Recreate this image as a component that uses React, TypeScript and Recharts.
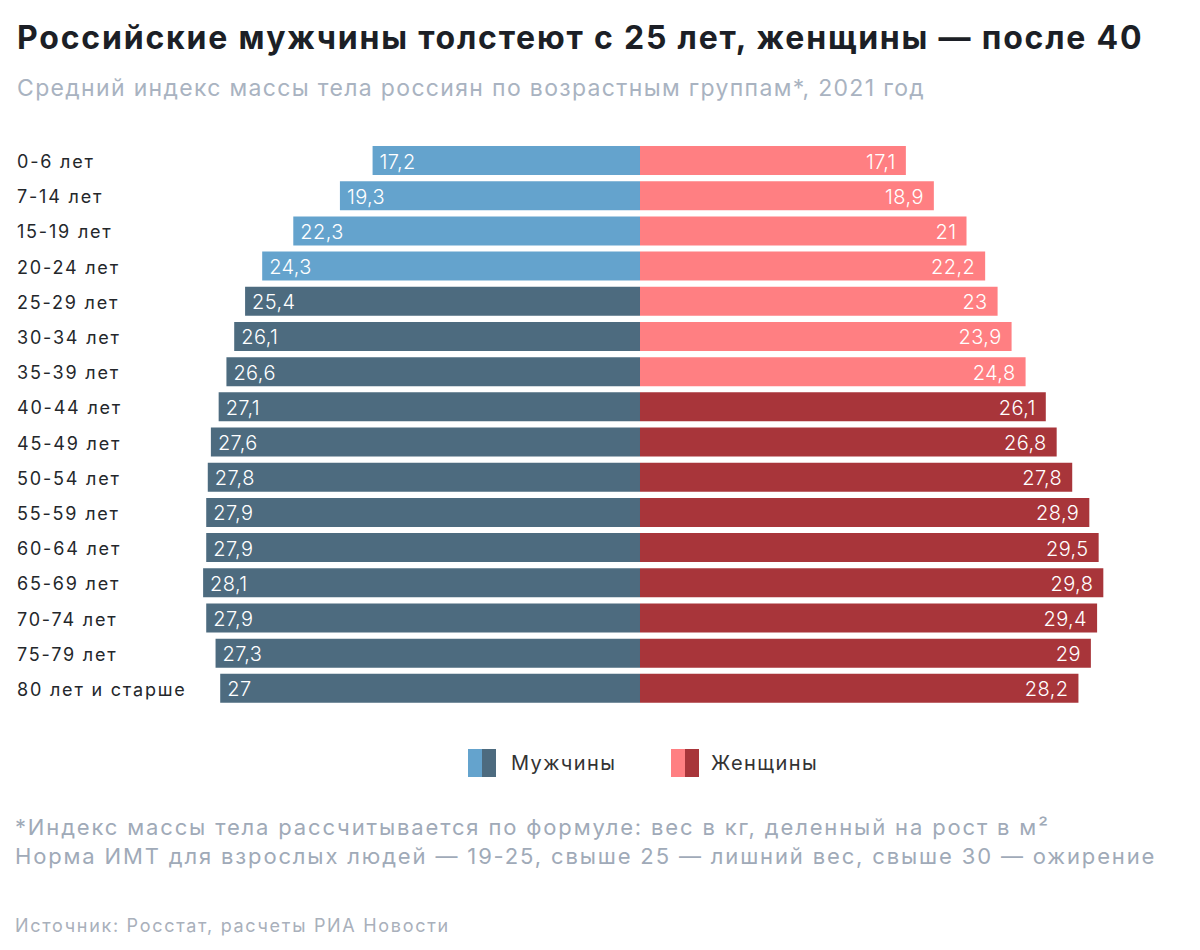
import React from "react"
import { BarChart, Bar, XAxis, YAxis, Cell, LabelList } from "recharts"

const ageGroups = [
  "0-6 лет",
  "7-14 лет",
  "15-19 лет",
  "20-24 лет",
  "25-29 лет",
  "30-34 лет",
  "35-39 лет",
  "40-44 лет",
  "45-49 лет",
  "50-54 лет",
  "55-59 лет",
  "60-64 лет",
  "65-69 лет",
  "70-74 лет",
  "75-79 лет",
  "80 лет и старше",
]
const menBmi = [17.2, 19.3, 22.3, 24.3, 25.4, 26.1, 26.6, 27.1, 27.6, 27.8, 27.9, 27.9, 28.1, 27.9, 27.3, 27]
const womenBmi = [17.1, 18.9, 21, 22.2, 23, 23.9, 24.8, 26.1, 26.8, 27.8, 28.9, 29.5, 29.8, 29.4, 29, 28.2]
// rows before these indexes are drawn in the light shade
const menLightUntil = 4
const womenLightUntil = 7

const colors = {
  menLight: "#64a3cd",
  menDark: "#4d6b7f",
  womenLight: "#ff7f82",
  womenDark: "#a8353a",
}

const font = "Inter, sans-serif"

const data = ageGroups.map((age, i) => ({
  age,
  men: -menBmi[i],
  women: womenBmi[i],
}))

const fmt = (v: number) => String(Math.abs(v)).replace(".", ",")

function AgeTick({ y, payload }: any) {
  return (
    <text
      x={17}
      y={y}
      dy={1}
      dominantBaseline="central"
      textAnchor="start"
      fontFamily={font}
      fontSize={18}
      letterSpacing={1.8}
      fill="#24272b"
    >
      {payload.value}
    </text>
  )
}

function ValueLabel(side: "men" | "women") {
  return (props: any) => {
    const { x, y, width, height, value } = props
    const left = Math.min(x, x + width)
    const right = Math.max(x, x + width)
    const cy = y + height / 2
    return (
      <text
        x={side === "men" ? left + 7 : right - 10}
        y={cy}
        dy={1}
        dominantBaseline="central"
        textAnchor={side === "men" ? "start" : "end"}
        fontFamily={font}
        fontSize={20}
        fontWeight={300}
        letterSpacing={0.4}
        fill="#ffffff"
      >
        {fmt(value)}
      </text>
    )
  }
}

const abs = (top: number, left: number): React.CSSProperties => ({ position: "absolute", top, left, whiteSpace: "nowrap" })

export default function App() {
  return (
    <div style={{ position: "absolute", left: 0, top: 0, width: 1200, height: 950, background: "#fff", fontFamily: font, overflow: "hidden" }}>
      <div style={{ ...abs(18, 17), fontSize: 32, fontWeight: 700, color: "#1c1f26", lineHeight: "40px", letterSpacing: 1.8 }}>
        Российские мужчины толстеют с 25 лет, женщины — после 40
      </div>
      <div style={{ ...abs(73, 17), fontSize: 23, color: "#a9b3c1", lineHeight: "30px", letterSpacing: 1.33 }}>
        Средний индекс массы тела россиян по возрастным группам*, 2021 год
      </div>

      <div style={{ position: "absolute", left: 0, top: 0 }}>
        <BarChart
          width={1200}
          height={720}
          data={data}
          layout="vertical"
          stackOffset="sign"
          margin={{ top: 143, right: 93.57, bottom: 14, left: 0 }}
        >
          <XAxis type="number" hide domain={[-28.3, 30]} />
          <YAxis type="category" dataKey="age" width={200} axisLine={false} tickLine={false} tick={<AgeTick />} interval={0} />
          <Bar dataKey="men" stackId="bmi" barSize={29} isAnimationActive={false}>
            {data.map((_, i) => (
              <Cell key={i} fill={i < menLightUntil ? colors.menLight : colors.menDark} />
            ))}
            <LabelList dataKey="men" content={ValueLabel("men")} />
          </Bar>
          <Bar dataKey="women" stackId="bmi" barSize={29} isAnimationActive={false}>
            {data.map((_, i) => (
              <Cell key={i} fill={i < womenLightUntil ? colors.womenLight : colors.womenDark} />
            ))}
            <LabelList dataKey="women" content={ValueLabel("women")} />
          </Bar>
        </BarChart>
      </div>

      {/* legend */}
      <div style={{ ...abs(749, 468), width: 14, height: 28, background: colors.menLight }} />
      <div style={{ ...abs(749, 482), width: 14, height: 28, background: colors.menDark }} />
      <div style={{ ...abs(750, 511), fontSize: 20, color: "#333", lineHeight: "26px", letterSpacing: 1.4 }}>Мужчины</div>
      <div style={{ ...abs(749, 671), width: 14, height: 28, background: colors.womenLight }} />
      <div style={{ ...abs(749, 685), width: 14, height: 28, background: colors.womenDark }} />
      <div style={{ ...abs(750, 711), fontSize: 20, color: "#333", lineHeight: "26px", letterSpacing: 1.4 }}>Женщины</div>

      <div style={{ ...abs(813, 15), fontSize: 22, color: "#a0aab8", lineHeight: "29px", letterSpacing: 1.85 }}>
        *Индекс массы тела рассчитывается по формуле: вес в кг, деленный на рост в м²
        <br />
        Норма ИМТ для взрослых людей — 19-25, свыше 25 — лишний вес, свыше 30 — ожирение
      </div>
      <div style={{ ...abs(913, 15), fontSize: 18, color: "#a9b0bb", lineHeight: "26px", letterSpacing: 1.7 }}>
        Источник: Росстат, расчеты РИА Новости
      </div>
    </div>
  )
}
